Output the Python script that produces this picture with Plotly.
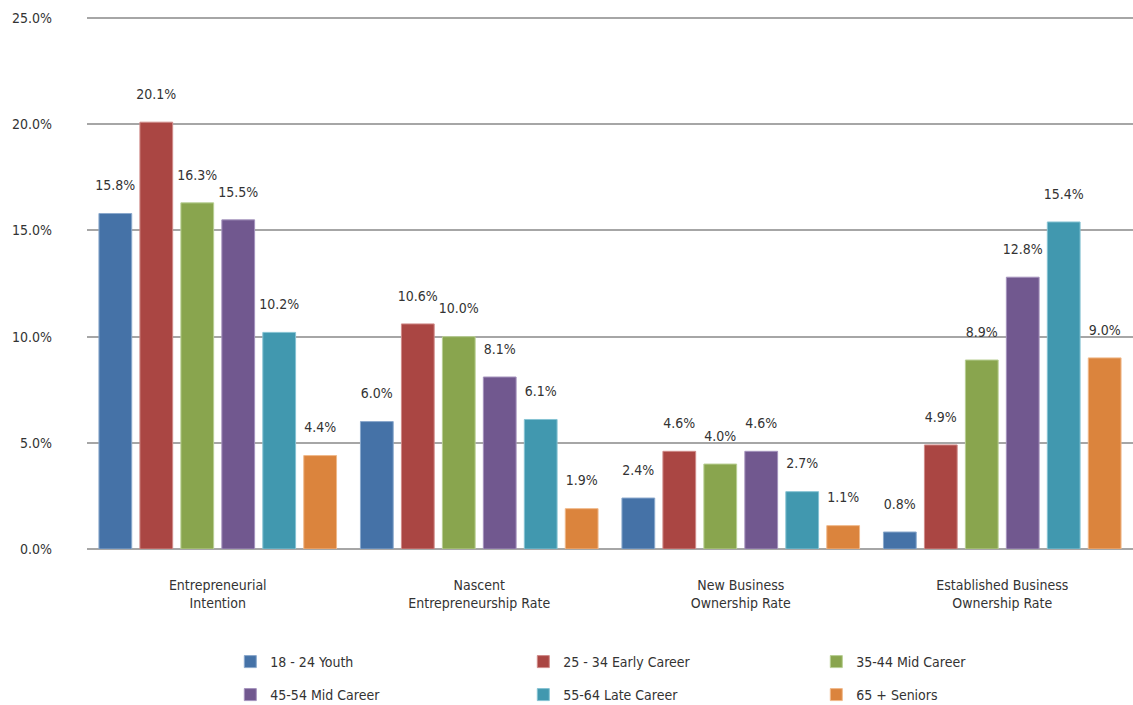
import plotly.graph_objects as go

categories = ["Entrepreneurial<br>Intention", "Nascent<br>Entrepreneurship Rate",
              "New Business<br>Ownership Rate", "Established Business<br>Ownership Rate"]

youth = [15.8, 6.0, 2.4, 0.8]
early_career = [20.1, 10.6, 4.6, 4.9]
mid_career_35 = [16.3, 10.0, 4.0, 8.9]
mid_career_45 = [15.5, 8.1, 4.6, 12.8]
late_career = [10.2, 6.1, 2.7, 15.4]
seniors = [4.4, 1.9, 1.1, 9.0]

series_names = ["18 - 24 Youth", "25 - 34 Early Career", "35-44 Mid Career",
                "45-54 Mid Career", "55-64 Late Career", "65 + Seniors"]
series_values = [youth, early_career, mid_career_35, mid_career_45, late_career, seniors]
colors = ["#4572A7", "#AA4643", "#89A54E", "#71588F", "#4198AF", "#DB843D"]
edge_colors = ["#8aa8cc", "#d08b89", "#b8cf93", "#a593bd", "#86c3d3", "#f0b98a"]

FONT = "Liberation Sans Narrow, DejaVu Sans Condensed, Arial Narrow, sans-serif"
TXT = "#333333"

fig = go.Figure()

# first three series in the top legend row, last three in the second row
for i, (name, vals, col, edge) in enumerate(zip(series_names, series_values, colors, edge_colors)):
    fig.add_trace(go.Bar(
        x=categories, y=vals, name=name,
        marker=dict(color=col, line=dict(color=edge, width=1)),
        offsetgroup=name, hoverinfo="skip",
        legend="legend" if i < 3 else "legend2",
    ))

# value labels sit a little above each bar
for name, vals in zip(series_names, series_values):
    fig.add_trace(go.Scatter(
        x=categories, y=vals, mode="markers+text",
        text=[f"{v:.1f}%" for v in vals], textposition="top center",
        textfont=dict(family=FONT, size=14, color=TXT),
        marker=dict(size=30, opacity=0),
        offsetgroup=name, showlegend=False, hoverinfo="skip", cliponaxis=False,
    ))

legend_common = dict(
    orientation="h", x=0.137, xanchor="left", yanchor="middle", yref="container",
    entrywidth=248, entrywidthmode="pixels",
    font=dict(family=FONT, size=14, color=TXT), itemclick=False,
    bgcolor="rgba(0,0,0,0)",
)

fig.update_layout(
    width=1133, height=705,
    margin=dict(l=87, r=0, t=16, b=156),
    plot_bgcolor="white", paper_bgcolor="white",
    barmode="group", bargap=0.06, bargroupgap=0.2,
    scattermode="group", scattergap=0.06,
    font=dict(family=FONT, size=14, color=TXT),
    showlegend=True,
    legend=dict(y=(705 - 662) / 705, **legend_common),
    legend2=dict(y=(705 - 695) / 705, **legend_common),
    xaxis=dict(showgrid=False, ticks="", showline=False, ticklabelstandoff=26,
               automargin=False,
               tickfont=dict(family=FONT, size=14, color=TXT)),
    yaxis=dict(range=[0, 25.1], tick0=0, dtick=5,
               tickformat=".1f", ticksuffix="%",
               showgrid=True, gridcolor="#a6a6a6", gridwidth=1.5,
               zeroline=True, zerolinecolor="#a6a6a6", zerolinewidth=1.5,
               ticks="", ticklabelstandoff=34, automargin=False,
               tickfont=dict(family=FONT, size=14, color=TXT)),
)

# page body has a default 8px margin; drop it so the figure fills the window
fig.write_html("out.html", config={"displayModeBar": False},
               post_script="document.body.style.margin='0';")
